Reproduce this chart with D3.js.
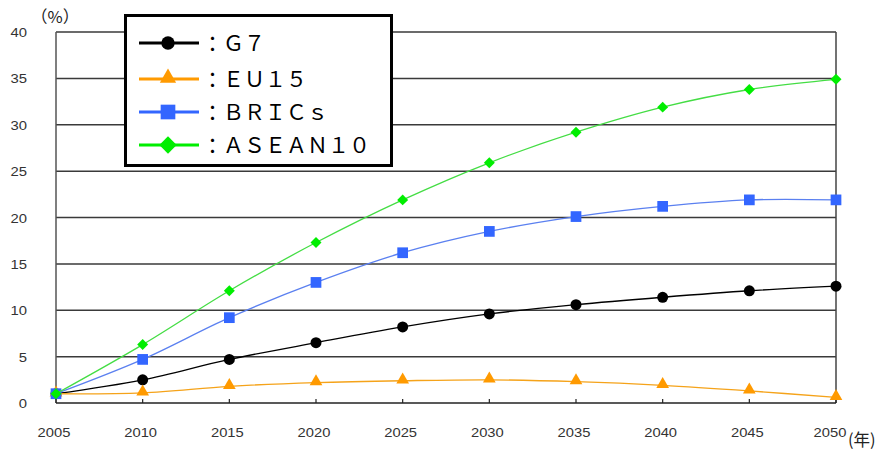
<!DOCTYPE html>
<html><head><meta charset="utf-8">
<script src="https://cdn.jsdelivr.net/npm/d3@7"></script>
<style>body{margin:0;background:#fff}svg{display:block}</style>
</head><body>
<svg id="c" width="879" height="452"></svg>
<script>
const years = [2005,2010,2015,2020,2025,2030,2035,2040,2045,2050];
const g7    = [1.0,2.5,4.7,6.5,8.2,9.6,10.6,11.4,12.1,12.6];
const eu15  = [1.0,1.1,1.8,2.2,2.4,2.5,2.3,1.9,1.3,0.6];
const brics = [1.0,4.7,9.2,13.0,16.2,18.5,20.1,21.2,21.9,21.9];
const asean = [1.0,6.3,12.1,17.3,21.9,25.9,29.2,31.9,33.8,34.9];
const yTicks = [0,5,10,15,20,25,30,35,40];
const seriesNames = ["：Ｇ７","：ＥＵ１５","：ＢＲＩＣｓ","：ＡＳＥＡＮ１０"];

const diamond = {draw(ctx,size){const r=Math.sqrt(size/2);ctx.moveTo(0,-r);ctx.lineTo(r,0);ctx.lineTo(0,r);ctx.lineTo(-r,0);ctx.closePath();}};

const series = [
  {name:seriesNames[0], values:g7, line:"#000000", fill:"#000000", sym:d3.symbolCircle, size:95, lsize:140, dy:0},
  {name:seriesNames[1], values:eu15, line:"#f5a31a", fill:"#ff9a00", sym:d3.symbolTriangle, size:70, lsize:115, dy:-1},
  {name:seriesNames[2], values:brics, line:"#5b80f0", fill:"#3366ff", sym:d3.symbolSquare, size:115, lsize:215, dy:0},
  {name:seriesNames[3], values:asean, line:"#44dd44", fill:"#00ee00", sym:diamond, size:60, lsize:150, dy:0}
];

const svg = d3.select("#c");
const x = d3.scaleLinear().domain([2005,2050]).range([56,836]);
const y = d3.scaleLinear().domain([0,40]).range([403,32]);

svg.append("g").selectAll("line").data(yTicks.filter(t=>t>0)).join("line")
  .attr("x1",56).attr("x2",836).attr("y1",d=>y(d)).attr("y2",d=>y(d))
  .attr("stroke","#3a3a3a").attr("stroke-width",1.5);

svg.append("line").attr("x1",56).attr("x2",56).attr("y1",32).attr("y2",403).attr("stroke","#555").attr("stroke-width",1.5);
svg.append("line").attr("x1",836).attr("x2",836).attr("y1",32).attr("y2",403).attr("stroke","#444").attr("stroke-width",1.5);
svg.append("line").attr("x1",56).attr("x2",836).attr("y1",403).attr("y2",403).attr("stroke","#222").attr("stroke-width",1.5);
svg.append("g").selectAll("line").data(years).join("line")
  .attr("x1",d=>x(d)).attr("x2",d=>x(d)).attr("y1",399).attr("y2",403)
  .attr("stroke","#222").attr("stroke-width",1.2);

svg.append("g").selectAll("text").data(yTicks).join("text")
  .attr("transform",d=>`translate(27,${y(d)+5}) scale(1.1,1)`).attr("text-anchor","end")
  .attr("font-family","Liberation Sans, Arial, sans-serif").attr("font-size",13.5).attr("fill","#333")
  .text(d=>d);
svg.append("g").selectAll("text").data(years).join("text")
  .attr("transform",(d,i)=>`translate(${x(d)-(i===years.length-1?6:2)},437) scale(1.18,1)`).attr("text-anchor","middle")
  .attr("font-family","Liberation Sans, Arial, sans-serif").attr("font-size",12.5).attr("fill","#333")
  .text(d=>d);

svg.append("text").attr("x",31).attr("y",23).attr("font-family","Noto Sans CJK JP").attr("font-size",16.5).attr("fill","#222").text("（%）");
svg.append("text").attr("x",848).attr("y",446).attr("font-family","Noto Sans CJK JP").attr("font-size",16.5).attr("fill","#222").text("(年)");

const line = d3.line().x((d,i)=>x(years[i])).y(d=>y(d)).curve(d3.curveCatmullRom.alpha(0.5));

series.forEach(s=>{
  svg.append("path").attr("d",line(s.values)).attr("fill","none").attr("stroke",s.line).attr("stroke-width",1.3);
  svg.append("g").selectAll("path").data(s.values).join("path")
    .attr("d",d3.symbol().type(s.sym).size(s.size))
    .attr("transform",(d,i)=>`translate(${x(years[i])},${y(d)+s.dy})`)
    .attr("fill",s.fill);
});

const lg = svg.append("g");
lg.append("rect").attr("x",125.5).attr("y",15.5).attr("width",266).attr("height",150)
  .attr("fill","#fff").attr("stroke","#000").attr("stroke-width",3);
const ly = [43,79,112,145];
series.forEach((s,i)=>{
  lg.append("line").attr("x1",139).attr("x2",199).attr("y1",ly[i]).attr("y2",ly[i]).attr("stroke",s.fill).attr("stroke-width",3);
  lg.append("path").attr("d",d3.symbol().type(s.sym).size(s.lsize)).attr("transform",`translate(168,${ly[i]+s.dy})`).attr("fill",s.fill);
  lg.append("text").attr("x",202).attr("y",ly[i]+7.5).attr("font-family","Noto Sans CJK JP").attr("font-size",21).attr("fill","#000")
    .text(s.name);
});
</script>
</body></html>
